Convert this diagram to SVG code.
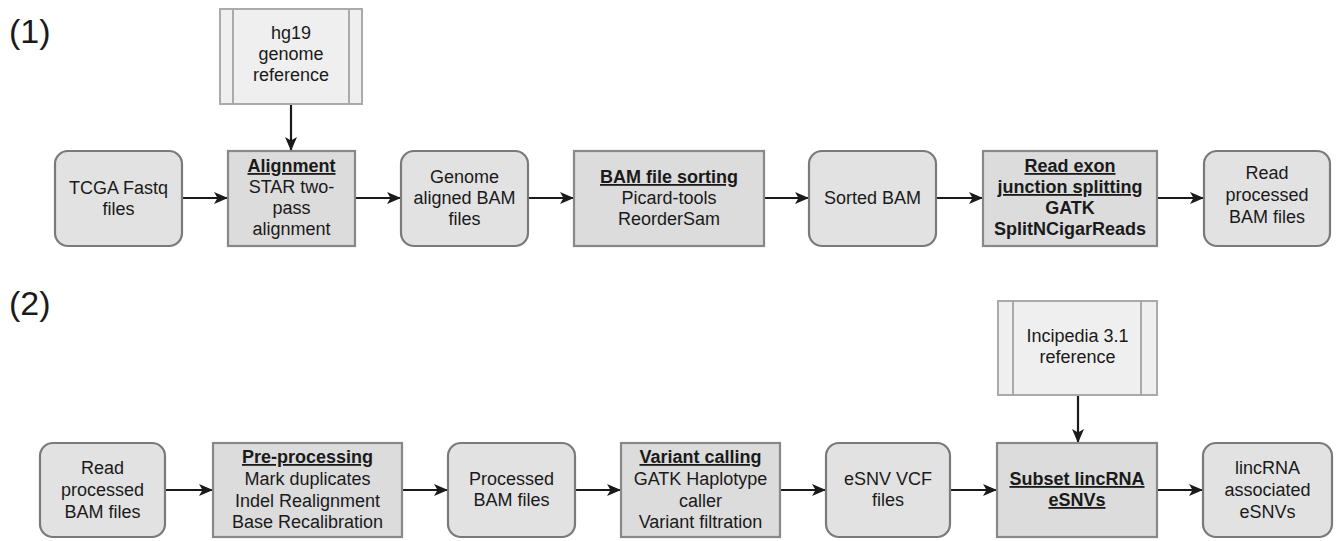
<svg xmlns="http://www.w3.org/2000/svg" width="1341" height="541" viewBox="0 0 1341 541">
<style>
  text { font-family: "Liberation Sans", Arial, sans-serif; font-size: 18px; fill: #1a1a1a; text-anchor: middle; }
  .lbl { font-size: 34px; text-anchor: start; }
  .hdr { font-weight: bold; text-decoration: underline; }
  .b { font-weight: bold; }
  .term { fill: #e2e2e2; stroke: #7a7a7a; stroke-width: 2.2; }
  .proc { fill: #dcdcdc; stroke: #888888; stroke-width: 2.2; }
  .ref { fill: #efefef; stroke: #aaaaaa; stroke-width: 2; }
  .refline { stroke: #aaaaaa; stroke-width: 2; }
  .conn { stroke: #1a1a1a; stroke-width: 2.2; fill: none; marker-end: url(#arr); }
</style>
<defs>
  <marker id="arr" viewBox="0 0 14 12" refX="14" refY="6" markerWidth="14" markerHeight="12" markerUnits="userSpaceOnUse" orient="auto">
    <path d="M0,0 L14,6 L0,12 L3.5,6 z" fill="#1a1a1a"/>
  </marker>
</defs>
<rect width="1341" height="541" fill="#ffffff"/>
<text class="lbl" x="9" y="43">(1)</text>
<text class="lbl" x="9" y="315">(2)</text>

<g id="connectors">
  <line class="conn" x1="291" y1="104" x2="291" y2="151"/>
  <line class="conn" x1="182" y1="198" x2="228" y2="198"/>
  <line class="conn" x1="355" y1="198" x2="401" y2="198"/>
  <line class="conn" x1="528" y1="198" x2="574" y2="198"/>
  <line class="conn" x1="764" y1="198" x2="809" y2="198"/>
  <line class="conn" x1="936" y1="198" x2="983" y2="198"/>
  <line class="conn" x1="1157" y1="198" x2="1204" y2="198"/>
  <line class="conn" x1="1078" y1="395" x2="1078" y2="443"/>
  <line class="conn" x1="165" y1="490" x2="213" y2="490"/>
  <line class="conn" x1="402" y1="490" x2="448" y2="490"/>
  <line class="conn" x1="575" y1="490" x2="621" y2="490"/>
  <line class="conn" x1="780" y1="490" x2="826" y2="490"/>
  <line class="conn" x1="950" y1="490" x2="997" y2="490"/>
  <line class="conn" x1="1157" y1="490" x2="1203" y2="490"/>
</g>

<g id="hg19">
  <rect class="ref" x="220" y="9" width="142" height="95"/>
  <line class="refline" x1="233" y1="9" x2="233" y2="104"/>
  <line class="refline" x1="349" y1="9" x2="349" y2="104"/>
  <text x="291" y="39">hg19</text>
  <text x="291" y="60">genome</text>
  <text x="291" y="81">reference</text>
</g>

<g id="tcga">
  <rect class="term" x="55" y="151" width="127" height="95" rx="13"/>
  <text x="118.5" y="194">TCGA Fastq</text>
  <text x="118.5" y="215">files</text>
</g>

<g id="alignment">
  <rect class="proc" x="228" y="151" width="127" height="95"/>
  <text class="hdr" x="291.5" y="172">Alignment</text>
  <text x="291.5" y="193">STAR two-</text>
  <text x="291.5" y="214">pass</text>
  <text x="291.5" y="235">alignment</text>
</g>

<g id="genome-bam">
  <rect class="term" x="401" y="151" width="127" height="95" rx="13"/>
  <text x="464.5" y="183">Genome</text>
  <text x="464.5" y="204">aligned BAM</text>
  <text x="464.5" y="225">files</text>
</g>

<g id="bam-sorting">
  <rect class="proc" x="574" y="151" width="190" height="95"/>
  <text class="hdr" x="669" y="183">BAM file sorting</text>
  <text x="669" y="204">Picard-tools</text>
  <text x="669" y="225">ReorderSam</text>
</g>

<g id="sorted-bam">
  <rect class="term" x="809" y="151" width="127" height="95" rx="13"/>
  <text x="872.5" y="204">Sorted BAM</text>
</g>

<g id="exon-split">
  <rect class="proc" x="983" y="151" width="174" height="95"/>
  <text class="hdr" x="1070" y="172">Read exon</text>
  <text class="hdr" x="1070" y="193">junction splitting</text>
  <text class="b" x="1070" y="214">GATK</text>
  <text class="b" x="1070" y="235">SplitNCigarReads</text>
</g>

<g id="read-processed-1">
  <rect class="term" x="1204" y="151" width="126" height="95" rx="13"/>
  <text x="1267" y="179">Read</text>
  <text x="1267" y="201">processed</text>
  <text x="1267" y="223">BAM files</text>
</g>

<g id="incipedia">
  <rect class="ref" x="998" y="301" width="159" height="94"/>
  <line class="refline" x1="1013" y1="301" x2="1013" y2="395"/>
  <line class="refline" x1="1141" y1="301" x2="1141" y2="395"/>
  <text x="1077.5" y="342">Incipedia 3.1</text>
  <text x="1077.5" y="363">reference</text>
</g>

<g id="read-processed-2">
  <rect class="term" x="40" y="443" width="125" height="94" rx="13"/>
  <text x="102.5" y="474">Read</text>
  <text x="102.5" y="496">processed</text>
  <text x="102.5" y="518">BAM files</text>
</g>

<g id="pre-processing">
  <rect class="proc" x="213" y="443" width="189" height="94"/>
  <text class="hdr" x="307.5" y="463">Pre-processing</text>
  <text x="307.5" y="485">Mark duplicates</text>
  <text x="307.5" y="507">Indel Realignment</text>
  <text x="307.5" y="528">Base Recalibration</text>
</g>

<g id="processed-bam">
  <rect class="term" x="448" y="443" width="127" height="94" rx="13"/>
  <text x="511.5" y="485">Processed</text>
  <text x="511.5" y="506">BAM files</text>
</g>

<g id="variant-calling">
  <rect class="proc" x="621" y="443" width="159" height="94"/>
  <text class="hdr" x="700.5" y="463">Variant calling</text>
  <text x="700.5" y="485">GATK Haplotype</text>
  <text x="700.5" y="507">caller</text>
  <text x="700.5" y="528">Variant filtration</text>
</g>

<g id="esnv-vcf">
  <rect class="term" x="826" y="443" width="124" height="94" rx="13"/>
  <text x="888" y="485">eSNV VCF</text>
  <text x="888" y="506">files</text>
</g>

<g id="subset-lincrna">
  <rect class="proc" x="997" y="443" width="160" height="94"/>
  <text class="hdr" x="1077" y="485">Subset lincRNA</text>
  <text class="hdr" x="1077" y="506">eSNVs</text>
</g>

<g id="lincrna-esnvs">
  <rect class="term" x="1203" y="443" width="129" height="94" rx="13"/>
  <text x="1267.5" y="474">lincRNA</text>
  <text x="1267.5" y="496">associated</text>
  <text x="1267.5" y="518">eSNVs</text>
</g>
</svg>
